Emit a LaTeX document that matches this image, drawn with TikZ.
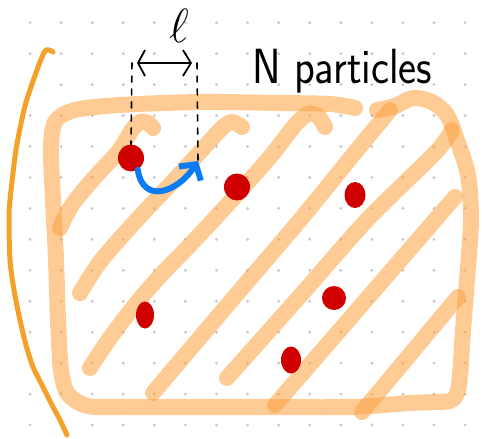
\RequirePackage{fix-cm}
\documentclass[tikz,border=0pt]{standalone}
\usepackage{graphicx}
\definecolor{hlorange}{RGB}{253,160,62}
\definecolor{penorange}{RGB}{245,160,40}
\definecolor{dotred}{RGB}{208,0,0}
\definecolor{penblue}{RGB}{10,125,245}
\definecolor{gridgray}{RGB}{200,200,200}
\usetikzlibrary{arrows.meta,positioning,shapes.geometric}
\tikzset{
  marker/.style={draw=hlorange,draw opacity=0.55,line width=16pt,line cap=round,line join=round},
  particle/.style={ellipse,fill=dotred,inner sep=0pt},
  jump/.style={penblue,line width=6pt,line cap=round,line join=round,-{Straight Barb[length=11pt,width=26pt]}},
  guide/.style={black,line width=1.6pt,dash pattern=on 6pt off 7pt,line cap=round},
}

\begin{document}
\begin{tikzpicture}[x=1pt,y=-1pt]
  \useasboundingbox (0,0) rectangle (482,439);
  % dot grid
  \foreach \i in {0,...,15}
    \foreach \j in {0,...,13}
      \fill[gridgray] ({-1+31.07*\i},{22.7+30.95*\j}) circle (1.6pt);
  % box outline
  \draw[marker] plot[smooth,tension=0.5] coordinates {(377,110) (395,106) (413,98) (432,102) (447,115)
    (457,140) (468,175) (471,220) (467,280) (463,330) (459,385) (452,400) (435,402) (410,403)
    (350,407) (250,407) (130,407) (88,406) (68,394) (61,370) (58,320) (56,260) (53,200)
    (51,150) (55,122) (75,110) (120,105) (200,102) (280,103) (330,104) (355,108)};
  % hatching
  \draw[marker] plot[smooth,tension=0.5] coordinates {(60,228) (72,205) (95,177) (118,152) (132,130) (140,122) (148,123) (153,128)};
  \draw[marker] plot[smooth,tension=0.5] coordinates {(80,293) (100,262) (133,224) (165,190) (200,152) (222,128) (232,122) (242,127)};
  \draw[marker] plot[smooth,tension=0.5] coordinates {(90,368) (110,338) (135,305) (160,276) (190,245) (230,202) (270,157) (295,125) (308,114) (318,116) (325,127)};
  \draw[marker] plot[smooth,tension=0.5] coordinates {(153,393) (225,308) (300,220) (357,150) (390,110)};
  \draw[marker] plot[smooth,tension=0.5] coordinates {(227,378) (300,296) (367,220) (435,153) (452,130)};
  \draw[marker] (275,405) -- (455,197);
  \draw[marker] (362,412) -- (458,297);
  % left bracket
  \draw[penorange,line width=5pt,line cap=round,line join=round] plot[smooth,tension=0.5] coordinates {(53,52) (46,50) (40,62)
    (30,90) (24,110) (16,150) (10,200) (9,220) (10,260) (14,290) (20,320) (26,345) (33,367)
    (42,385) (52,405) (60,420) (67,435)};
  % particles
  \node[particle,minimum width=26pt,minimum height=27pt] (p1) at (131,158) {};
  \node[particle,minimum width=26pt,minimum height=27pt] (p2) at (237,187) {};
  \node[particle,minimum width=21pt,minimum height=26pt] (p3) at (355,195) {};
  \node[particle,minimum width=18pt,minimum height=27pt] (p4) at (145,315) {};
  \node[particle,minimum width=24pt,minimum height=24pt] (p5) at (334,298) {};
  \node[particle,minimum width=20pt,minimum height=27pt] (p6) at (291,360) {};
  % hop of length l
  \coordinate (land) at (198,161);
  \draw[jump] (p1.-60) .. controls (143,205) and (178,192) .. (land);
  \coordinate (ltop) at (132,63);
  \coordinate (rtop) at (197,63);
  \draw[guide] (ltop) -- (p1.north);
  \draw[guide] (rtop) -- (land);
  \draw[line width=1.8pt,line cap=round,line join=round,
    {Straight Barb[length=7pt,width=26pt]}-{Straight Barb[length=8pt,width=26pt]},
    shorten <=5pt,shorten >=5pt] (ltop) -- (rtop);
  \node[font=\fontsize{48}{48}\selectfont,inner sep=0pt] (ell) at (179,26) {$\ell$};
  \node[font=\sffamily\fontsize{43}{43}\selectfont,inner sep=0pt,anchor=base west] (count) at (252,83)
    {\scalebox{1}[1.15]{N particles}};
\end{tikzpicture}
\end{document}
